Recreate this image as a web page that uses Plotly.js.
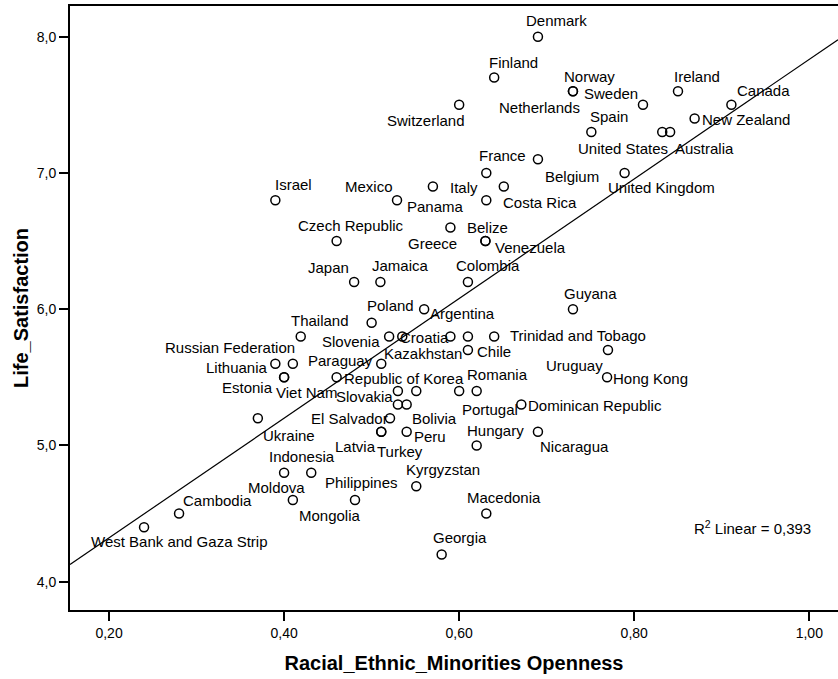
<!DOCTYPE html>
<html>
<head>
<meta charset="utf-8">
<script src="https://cdn.plot.ly/plotly-3.0.1.min.js"></script>
<style>html,body{margin:0;padding:0;background:#fff;}#chart{width:838px;height:679px;}</style>
</head>
<body>
<div id="chart"></div>
<script>
// ---- Data ----
const countries = [
  "Denmark","Finland","Switzerland","Norway","Netherlands","Sweden","Ireland","Canada","New Zealand",
  "Spain","United States","Australia","France","Belgium","United Kingdom","Italy","Mexico","Panama",
  "Costa Rica","Israel","Czech Republic","Belize","Greece","Venezuela","Japan","Jamaica","Colombia",
  "Guyana","Poland","Argentina","Thailand","Slovenia","Croatia","Kazakhstan","Trinidad and Tobago",
  "Chile","Uruguay","Paraguay","Hong Kong","Republic of Korea","Lithuania","Russian Federation",
  "Estonia","Viet Nam","Slovakia","Portugal","Romania","Bolivia","Dominican Republic","Ukraine",
  "El Salvador","Latvia","Turkey","Peru","Hungary","Nicaragua","Indonesia","Moldova","Mongolia",
  "Philippines","Kyrgyzstan","Macedonia","Georgia","Cambodia","West Bank and Gaza Strip"
];
const openness = [
  0.690,0.640,0.600,0.730,0.730,0.810,0.850,0.911,0.869,
  0.751,0.832,0.841,0.631,0.690,0.789,0.651,0.570,0.529,
  0.631,0.390,0.460,0.590,0.630,0.630,0.480,0.510,0.610,
  0.730,0.500,0.560,0.419,0.520,0.535,0.590,0.640,
  0.610,0.770,0.511,0.769,0.460,0.390,0.410,
  0.400,0.400,0.530,0.600,0.620,0.540,0.671,0.370,
  0.521,0.511,0.511,0.540,0.620,0.690,0.400,0.431,0.410,
  0.481,0.551,0.631,0.580,0.280,0.240
];
const lifeSatisfaction = [
  8.0,7.7,7.5,7.6,7.6,7.5,7.6,7.5,7.4,
  7.3,7.3,7.3,7.0,7.1,7.0,6.9,6.9,6.8,
  6.8,6.8,6.5,6.6,6.5,6.5,6.2,6.2,6.2,
  6.0,5.9,6.0,5.8,5.8,5.8,5.8,5.8,
  5.7,5.7,5.6,5.5,5.5,5.6,5.6,
  5.5,5.5,5.4,5.4,5.4,5.3,5.3,5.2,
  5.2,5.1,5.1,5.1,5.0,5.1,4.8,4.8,4.6,
  4.6,4.7,4.5,4.2,4.5,4.4
];
// points drawn without a visible label in the reference
const unlabeledOpenness = [0.610, 0.551, 0.530];
const unlabeledLifeSatisfaction = [5.8, 5.4, 5.3];
// linear fit shown in the reference
const fitIntercept = 3.444;
const fitSlope = 4.39;
const rSquared = "0,393";

// ---- Label placement (layout only): anchor side, x offset, y offset (px, down positive) ----
const labelAnchor = [
  "L","L","R","L","R","R","L","L","L",
  "L","R","L","L","L","L","R","R","L",
  "L","L","L","L","R","L","R","L","L",
  "L","L","L","L","R","L","R","L",
  "L","R","R","L","L","R","R",
  "R","L","R","L","L","L","L","L",
  "R","R","L","L","L","L","L","R","L",
  "L","L","L","L","L","L"
];
const labelDx = [
  -12,-5,6,-9,7,-5,-4,6,7,
  -1,6,5,-7,7,-17,-26,-40,10,
  17,0,-39,17,-28,10,-5,-8,-12,
  -9,-5,6,-10,-9,-2,12,16,
  9,-5,-8,6,7,-7,2,
  -11,-8,-5,3,-10,5,7,5,
  -2,-5,-4,7,-10,2,-15,-6,6,
  -30,-10,-19,-9,4,-53
];
const labelDy = [
  -16,-15,16,-15,16,-11,-15,-14,1,
  -16,16,16,-17,17,15,1,0,6,
  2,-16,-16,0,2,6,-14,-16,-16,
  -16,-17,4,-16,5,1,17,-1,
  1,15,-3,1,1,4,-16,
  10,15,6,19,-16,14,1,17,
  0,15,20,5,-15,15,-16,15,16,
  -17,-17,-16,-17,-13,14
];

const fontFamily = 'Arial, "Liberation Sans", Helvetica, sans-serif';
const xRange = [0.1554, 1.0328];
const yRange = [3.7923, 8.2253];

const pointsTrace = {
  type: 'scatter', mode: 'markers',
  x: openness.concat(unlabeledOpenness),
  y: lifeSatisfaction.concat(unlabeledLifeSatisfaction),
  marker: {symbol: 'circle-open', size: 9, color: '#000', line: {width: 1.5, color: '#000'}},
  hoverinfo: 'x+y', showlegend: false
};
const fitTrace = {
  type: 'scatter', mode: 'lines',
  x: xRange.slice(),
  y: xRange.map(v => fitIntercept + fitSlope * v),
  line: {color: '#000', width: 1.2},
  hoverinfo: 'skip', showlegend: false
};

const annotations = countries.map((c, i) => ({
  x: openness[i], y: lifeSatisfaction[i], xref: 'x', yref: 'y',
  text: c, showarrow: false,
  xanchor: labelAnchor[i] === 'L' ? 'left' : 'right',
  yanchor: 'middle',
  xshift: labelAnchor[i] === 'L' ? labelDx[i] - 2 : labelDx[i] + 2,
  yshift: -labelDy[i],
  font: {family: fontFamily, size: 15, color: '#000'}
}));
annotations.push({
  x: 0.866, y: 4.40, xref: 'x', yref: 'y', showarrow: false,
  xanchor: 'left', yanchor: 'middle',
  text: 'R<sup>2</sup> Linear = ' + rSquared,
  font: {family: fontFamily, size: 15, color: '#000'}
});

const layout = {
  width: 838, height: 679,
  margin: {l: 70, r: 0, t: 6, b: 69},
  paper_bgcolor: '#fff', plot_bgcolor: '#fff',
  separators: ',.',
  showlegend: false,
  xaxis: {
    range: xRange, tick0: 0.2, dtick: 0.2, tickformat: '.2f',
    showgrid: false, zeroline: false,
    showline: true, linecolor: '#000', linewidth: 2, mirror: true,
    ticks: 'outside', ticklen: 9, tickwidth: 2, tickcolor: '#000',
    tickfont: {family: fontFamily, size: 14, color: '#000'},
    title: {text: 'Racial_Ethnic_Minorities Openness', standoff: 16,
            font: {family: fontFamily, size: 20, color: '#000', weight: 'bold'}}
  },
  yaxis: {
    range: yRange, tick0: 4, dtick: 1, tickformat: '.1f',
    showgrid: false, zeroline: false,
    showline: true, linecolor: '#000', linewidth: 2, mirror: false,
    ticks: 'outside', ticklen: 9, tickwidth: 2, tickcolor: '#000',
    tickfont: {family: fontFamily, size: 14, color: '#000'},
    title: {text: 'Life_Satisfaction', standoff: 3,
            font: {family: fontFamily, size: 20, color: '#000', weight: 'bold'}}
  },
  annotations: annotations
};

Plotly.newPlot('chart', [fitTrace, pointsTrace], layout, {displayModeBar: false, staticPlot: true});
</script>
</body>
</html>
